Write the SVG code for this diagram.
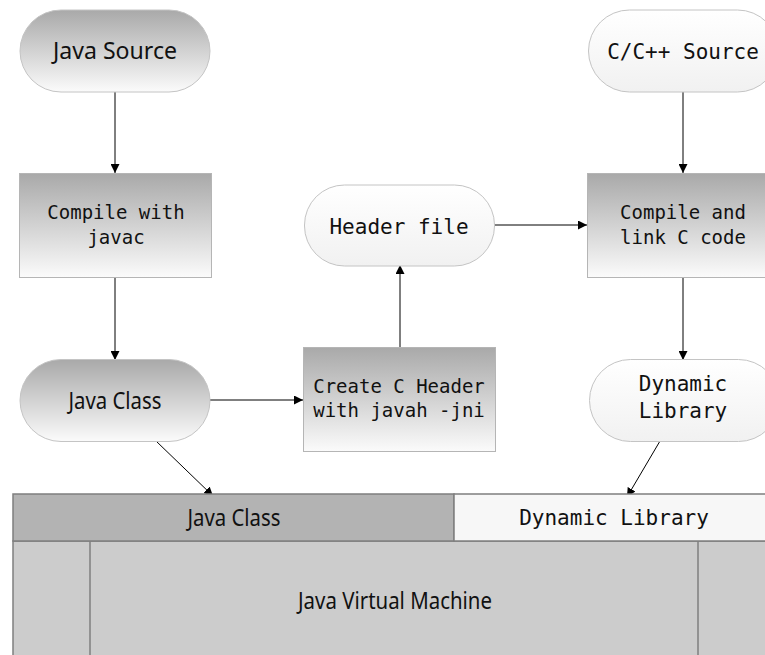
<svg xmlns="http://www.w3.org/2000/svg" width="765" height="655" viewBox="0 0 765 655">
  <defs>
    <linearGradient id="gDark" x1="0" y1="0" x2="0" y2="1">
      <stop offset="0" stop-color="#a9a9a9"/>
      <stop offset="1" stop-color="#fbfbfb"/>
    </linearGradient>
    <linearGradient id="gLight" x1="0" y1="0" x2="0" y2="1">
      <stop offset="0" stop-color="#ffffff"/>
      <stop offset="1" stop-color="#f1f1f1"/>
    </linearGradient>
    <marker id="arr" viewBox="0 0 10 10" refX="10" refY="5" markerWidth="9" markerHeight="9" markerUnits="userSpaceOnUse" orient="auto">
      <path d="M0,0 L10,5 L0,10 z" fill="#000"/>
    </marker>
    <style>
      .term { stroke: #c4c4c4; stroke-width: 1; }
      .proc { stroke: #b5b5b5; stroke-width: 1; }
      .dark { fill: url(#gDark); }
      .light { fill: url(#gLight); }
      .sans { font-family: "Noto Sans", "Open Sans", sans-serif; font-size: 24px; fill: #111; text-anchor: middle; }
      .mono { font-family: "DejaVu Sans Mono", monospace; fill: #111; text-anchor: middle; }
      .m21 { font-size: 21px; }
      .m19 { font-size: 19px; }
      .conn line { stroke: #000; stroke-width: 1; marker-end: url(#arr); }
      .bar { stroke: #7f7f7f; stroke-width: 1.5; }
    </style>
  </defs>
  <rect width="765" height="655" fill="#fff"/>

  <g id="connectors" class="conn">
    <line x1="115" y1="92" x2="115" y2="173"/>
    <line x1="115" y1="277" x2="115" y2="360"/>
    <line x1="210" y1="400" x2="303" y2="400"/>
    <line x1="400" y1="347" x2="400" y2="265"/>
    <line x1="494" y1="225" x2="587" y2="225"/>
    <line x1="683" y1="92" x2="683" y2="173"/>
    <line x1="683" y1="277" x2="683" y2="360"/>
    <line x1="156" y1="441" x2="213" y2="496"/>
    <line x1="660" y1="441" x2="627" y2="497"/>
  </g>

  <g id="platform">
    <rect class="bar" x="13" y="541" width="760" height="120" fill="#cccccc"/>
    <line class="bar" x1="90" y1="541" x2="90" y2="660"/>
    <line class="bar" x1="698" y1="541" x2="698" y2="660"/>
    <rect class="bar" x="13" y="494" width="441" height="47" fill="#b3b3b3"/>
    <rect class="bar" x="454" y="494" width="320" height="47" fill="#f7f7f7"/>
    <text class="sans" x="234" y="526" textLength="93" lengthAdjust="spacingAndGlyphs">Java Class</text>
    <text class="mono m21" x="614" y="525">Dynamic Library</text>
    <text class="sans" x="395" y="609" textLength="194" lengthAdjust="spacingAndGlyphs">Java Virtual Machine</text>
  </g>

  <g id="java-source">
    <rect class="term dark" x="20" y="10" width="190" height="82" rx="41" ry="41"/>
    <text class="sans" x="115" y="59" textLength="124" lengthAdjust="spacingAndGlyphs">Java Source</text>
  </g>

  <g id="compile-javac">
    <rect class="proc dark" x="19.5" y="173.5" width="192" height="104"/>
    <text class="mono m19" x="116" y="219">Compile with</text>
    <text class="mono m19" x="116" y="244">javac</text>
  </g>

  <g id="java-class">
    <rect class="term dark" x="20" y="359.5" width="190" height="82" rx="41" ry="41"/>
    <text class="sans" x="115" y="409" textLength="93" lengthAdjust="spacingAndGlyphs">Java Class</text>
  </g>

  <g id="create-header">
    <rect class="proc dark" x="303.5" y="347.5" width="192" height="104"/>
    <text class="mono m19" x="399" y="393">Create C Header</text>
    <text class="mono m19" x="399" y="417">with javah -jni</text>
  </g>

  <g id="header-file">
    <rect class="term light" x="304.5" y="185" width="190" height="81" rx="40" ry="40"/>
    <text class="mono m21" x="399" y="234">Header file</text>
  </g>

  <g id="c-source">
    <rect class="term light" x="588.5" y="10" width="190" height="82" rx="41" ry="41"/>
    <text class="mono m21" x="683" y="59">C/C++ Source</text>
  </g>

  <g id="compile-c">
    <rect class="proc dark" x="587.5" y="173.5" width="192" height="104"/>
    <text class="mono m19" x="683" y="219">Compile and</text>
    <text class="mono m19" x="683" y="244">link C code</text>
  </g>

  <g id="dynamic-library">
    <rect class="term light" x="589.5" y="359.5" width="190" height="82" rx="41" ry="41"/>
    <text class="mono m21" x="683" y="391">Dynamic</text>
    <text class="mono m21" x="683" y="418">Library</text>
  </g>
</svg>
